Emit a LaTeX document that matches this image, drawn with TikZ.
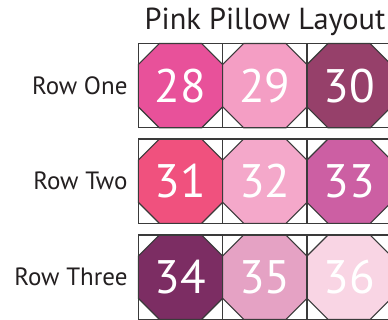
\documentclass[tikz,border=0pt]{standalone}
\usepackage{fontspec}
\setmainfont{PT Sans}
\usetikzlibrary{positioning,calc}
\definecolor{pk28}{HTML}{E8519A}
\definecolor{pk29}{HTML}{F49EC4}
\definecolor{pk30}{HTML}{96406A}
\definecolor{pk31}{HTML}{F0517E}
\definecolor{pk32}{HTML}{F4A8CA}
\definecolor{pk33}{HTML}{CC5FA3}
\definecolor{pk34}{HTML}{7C2D63}
\definecolor{pk35}{HTML}{E5A2C4}
\definecolor{pk36}{HTML}{F9D5E4}
\definecolor{edge}{HTML}{3A3A3A}
\definecolor{ink}{HTML}{231F20}
\tikzset{every picture/.style={line width=1.1pt}}
\tikzset{
  blk/.style={draw=edge, fill=white, minimum size=84.3pt, inner sep=0pt, outer sep=0pt},
  num/.style={text=white, font=\fontsize{47}{47}\selectfont},
  rowlbl/.style={anchor=east, text=ink, font=\fontsize{25}{25}\selectfont}
}

\begin{document}
\begin{tikzpicture}[x=1pt, y=-1pt]
    \useasboundingbox (0,0) rectangle (388,320);

    % titel
    \node[anchor=base, text=ink, font=\fontsize{30.4}{30.4}\selectfont] (title) at (265,29.3) {Pink Pillow Layout};

    % blokken met achthoek
    \foreach \n/\cx/\cy in {28/180.5/85.7, 29/264.8/85.7, 30/349.1/85.7,
                            31/180.5/181.2, 32/264.8/181.2, 33/349.1/181.2,
                            34/180.5/277.2, 35/264.8/277.2, 36/349.1/277.2} {
        \node[blk] (b\n) at (\cx,\cy) {};
        \filldraw[fill=pk\n, draw=edge]
            ($(b\n.north west)+(21,0)$) -- ($(b\n.north east)+(-21,0)$)
            -- ($(b\n.north east)+(0,21)$) -- ($(b\n.south east)+(0,-21)$)
            -- ($(b\n.south east)+(-21,0)$) -- ($(b\n.south west)+(21,0)$)
            -- ($(b\n.south west)+(0,-21)$) -- ($(b\n.north west)+(0,21)$) -- cycle;
        \draw[edge] (b\n.north west) rectangle (b\n.south east);
        \node[num] (t\n) at (b\n) {\n};
    }

    % rijnamen
    \node[rowlbl] (rone) [left=7pt of b28] {Row One};
    \node[rowlbl] (rtwo) [left=7pt of b31] {Row Two};
    \node[rowlbl] (rthree) [left=7pt of b34] {Row Three};
\end{tikzpicture}
\end{document}
